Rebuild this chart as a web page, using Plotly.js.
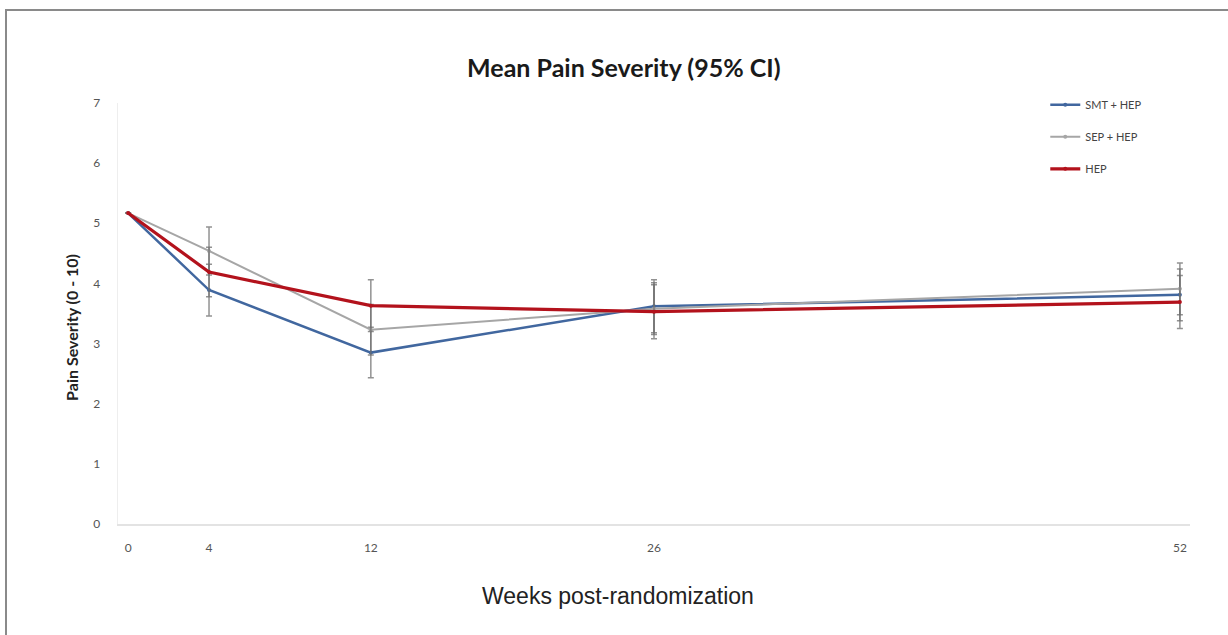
<!DOCTYPE html>
<html>
<head>
<meta charset="utf-8">
<script src="https://cdn.plot.ly/plotly-3.0.1.min.js"></script>
<style>
  html, body { margin: 0; padding: 0; background: #fff; overflow: hidden; }
  #frame { position: absolute; left: 5px; top: 9px; width: 1260px; height: 700px;
           border-top: 2px solid #8a8a8a; border-left: 2px solid #8a8a8a; box-sizing: border-box; }
  #chart { position: absolute; left: 0; top: 0; width: 1228px; height: 635px; }
</style>
</head>
<body>
<div id="frame"></div>
<div id="chart"></div>
<script>
// Data
const weeks = [0, 4, 12, 26, 52];
const tickLabels = ["0", "4", "12", "26", "52"];
const seriesNames = ["SMT + HEP", "SEP + HEP", "HEP"];
const smtHep = [5.17, 3.89, 2.85, 3.62, 3.81];
const smtHepErr = [0, 0.43, 0.42, 0.44, 0.43];
const sepHep = [5.17, 4.54, 3.23, 3.58, 3.91];
const sepHepErr = [0, 0.40, 0.42, 0.43, 0.43];
const hep = [5.17, 4.19, 3.63, 3.53, 3.69];
const hepErr = [0, 0.41, 0.43, 0.45, 0.44];
const yTicks = [0, 1, 2, 3, 4, 5, 6, 7];
const xTitle = "Weeks post-randomization";
const yTitle = "Pain Severity (0 - 10)";
const chartTitle = "Mean Pain Severity (95% CI)";

function mk(name, y, err, color, width, group) {
  return {
    x: weeks, y: y, name: name, type: "scatter", mode: "lines+markers",
    legendgroup: group,
    line: { color: color, width: width },
    marker: { color: color, size: 4, symbol: "circle" },
    error_y: { type: "data", array: err, visible: true, color: "rgba(110,110,110,0.75)", thickness: 1.5, width: 3 }
  };
}

const traces = [
  mk(seriesNames[0], smtHep, smtHepErr, "#41679f", 2.5, "a"),
  mk(seriesNames[1], sepHep, sepHepErr, "#a6a6a6", 2, "b"),
  mk(seriesNames[2], hep, hepErr, "#b3121c", 3.2, "c")
];

const layout = {
  width: 1228, height: 635,
  paper_bgcolor: "rgba(0,0,0,0)", plot_bgcolor: "rgba(0,0,0,0)",
  margin: { l: 118, r: 38, t: 103, b: 111 },
  title: { text: "<b>" + chartTitle + "</b>", x: 0.508, xanchor: "center", y: 0.893, yanchor: "middle",
           font: { family: "Lato, 'Open Sans', sans-serif", size: 25, color: "#1a1a1a" } },
  xaxis: {
    range: [-0.5, 52.5], tickmode: "array", tickvals: weeks, ticktext: tickLabels,
    showgrid: false, zeroline: false, showline: true, linecolor: "#e3e3e3", linewidth: 1.5,
    ticks: "", ticklabelstandoff: 12,
    tickfont: { family: "Lato, sans-serif", size: 12, color: "#555" }
  },
  yaxis: {
    range: [0, 7], tickmode: "array", tickvals: yTicks,
    showgrid: false, zeroline: false, showline: true, linecolor: "#eeeeee", linewidth: 1.5,
    ticks: "", ticklabelstandoff: 14,
    tickfont: { family: "Lato, sans-serif", size: 12, color: "#555" }
  },
  annotations: [
    { text: xTitle, xref: "paper", yref: "paper", x: 0.466, y: -0.17, xanchor: "center", yanchor: "middle",
      showarrow: false, font: { family: "'Liberation Sans', Arial, sans-serif", size: 23, color: "#222" } },
    { text: "<b>" + yTitle + "</b>", xref: "paper", yref: "paper", x: -0.043, y: 0.468, xanchor: "center", yanchor: "middle",
      textangle: -90, showarrow: false, font: { family: "Lato, sans-serif", size: 16, color: "#222" } }
  ],
  showlegend: true,
  legend: {
    x: 0.865, xanchor: "left", y: 1.03, yanchor: "top",
    bgcolor: "rgba(0,0,0,0)", traceorder: "grouped", tracegroupgap: 13,
    font: { family: "Lato, sans-serif", size: 11, color: "#444" },
    itemwidth: 30
  }
};

Plotly.newPlot("chart", traces, layout, { displayModeBar: false, staticPlot: true });
</script>
</body>
</html>
